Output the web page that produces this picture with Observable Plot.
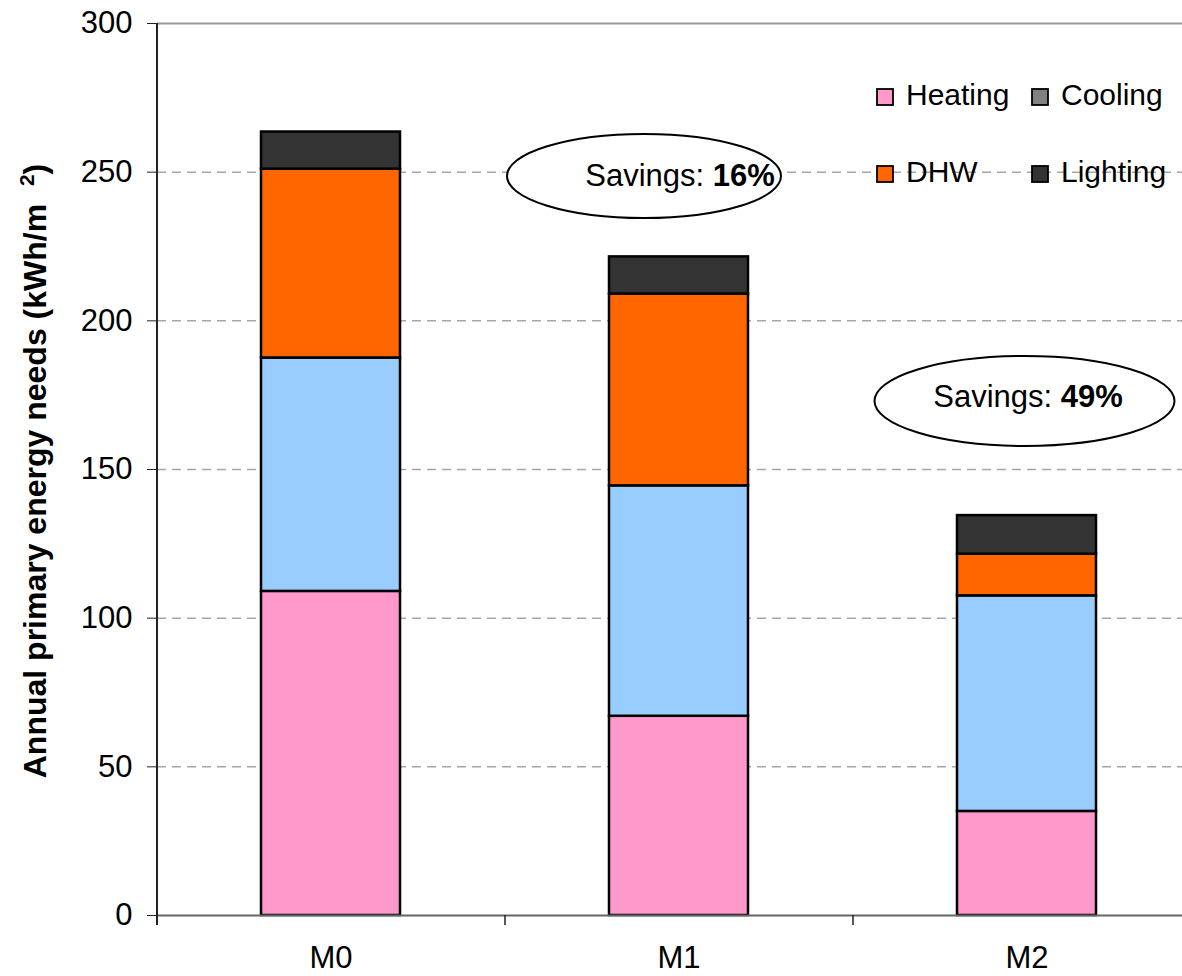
<!DOCTYPE html>
<html>
<head>
<meta charset="utf-8">
<script src="https://cdn.jsdelivr.net/npm/d3@7"></script>
<script src="https://cdn.jsdelivr.net/npm/@observablehq/plot@0.6"></script>
<style>
  body { margin: 0; background: #fff; }
  #chart svg { display: block; }
</style>
</head>
<body>
<div id="chart"></div>
<script>
// Annual primary energy needs per model, stacked by end use (kWh/m²)
const models = ["M0", "M1", "M2"];
const seriesNames = ["Heating", "Cooling", "DHW", "Lighting"];
const heating = [109, 67, 35];
const cooling = [78.5, 77.5, 72.5];
const dhw = [63.5, 64.5, 14];
const lighting = [12.5, 12.5, 13];
const yTicks = [0, 50, 100, 150, 200, 250, 300];
const gridTicks = [50, 100, 150, 200, 250];

// Bar fills (cooling points recoloured) and the series swatches in the legend
const barColors = ["#ff99cc", "#99ccff", "#ff6600", "#333333"];
const legendColors = ["#ff99cc", "#808080", "#ff6600", "#333333"];

const seriesValues = [heating, cooling, dhw, lighting];
const rows = [];
seriesNames.forEach((s, i) =>
  models.forEach((m, j) => rows.push({ model: m, series: s, value: seriesValues[i][j] }))
);
const totals = models.map((m, j) => d3.sum(seriesValues, (v) => v[j]));
const savings = totals.map((t) => Math.round((1 - t / totals[0]) * 100));

const W = 1182, H = 976;
const xRange = [157, 1201];
const step = (xRange[1] - xRange[0]) / models.length;
const font = "'Liberation Sans', Arial, Helvetica, sans-serif";

const plot = Plot.plot({
  width: W,
  height: H,
  marginLeft: 157,
  marginRight: 0,
  marginTop: 23,
  marginBottom: 61,
  style: { fontFamily: font, fontSize: "31px", color: "#000", background: "#fff" },
  x: { domain: models, range: xRange, paddingInner: 0.6, paddingOuter: 0.3, label: null },
  y: { domain: [0, 300], label: null },
  color: { domain: seriesNames, range: barColors },
  marks: [
    Plot.ruleY(gridTicks, { stroke: "#a6a6a6", strokeWidth: 1.5, strokeDasharray: "9,6" }),
    Plot.ruleY([300], { stroke: "#999", strokeWidth: 2 }),
    Plot.barY(rows, Plot.stackY({ order: seriesNames }, {
      x: "model", y: "value", fill: "series", stroke: "#000", strokeWidth: 2.5
    })),
    Plot.ruleY([0], { stroke: "#666", strokeWidth: 2 }),
    // value axis line and category boundary ticks
    Plot.ruleX(["M0"], { x: (d) => d, dx: -step / 2, y1: 300, y2: 0, insetBottom: -10, stroke: "#222", strokeWidth: 2 }),
    Plot.ruleX(models.slice(1), { x: (d) => d, dx: -step / 2, y1: 0, y2: 0, insetBottom: -10, stroke: "#222", strokeWidth: 1.5 }),
    Plot.axisY(yTicks, { tickSize: 10, tickPadding: 15, fontSize: 31, label: null, stroke: "#222" }),
    Plot.axisX({ tickSize: 0, tickPadding: 30, fontSize: 31, label: null })
  ]
});

document.getElementById("chart").appendChild(plot);
const svg = d3.select(plot);

// Y title with superscript
const title = svg.append("text")
  .attr("transform", "translate(46,471) rotate(-90)")
  .attr("text-anchor", "middle")
  .attr("font-family", font)
  .attr("font-weight", "bold")
  .attr("font-size", 32)
  .attr("fill", "#000");
title.append("tspan").text("Annual primary energy needs (kWh/m  ");
title.append("tspan").attr("dy", -12).attr("font-size", 21).text("2");
title.append("tspan").attr("dy", 12).text(")");

// Savings callouts
const callouts = [
  { cx: 644, cy: 176, rx: 137, ry: 42, tx: 680, ty: 186, pct: savings[1] },
  { cx: 1024.5, cy: 401, rx: 150, ry: 45, tx: 1028, ty: 407, pct: savings[2] }
];
const cg = svg.append("g");
callouts.forEach((c) => {
  cg.append("ellipse")
    .attr("cx", c.cx).attr("cy", c.cy).attr("rx", c.rx).attr("ry", c.ry)
    .attr("fill", "#fff").attr("stroke", "#000").attr("stroke-width", 2);
  const t = cg.append("text")
    .attr("x", c.tx).attr("y", c.ty)
    .attr("text-anchor", "middle")
    .attr("font-family", font).attr("font-size", 31).attr("fill", "#000");
  t.append("tspan").text("Savings: ");
  t.append("tspan").attr("font-weight", "bold").text(c.pct + "%");
});

// Legend, two columns by two rows
const lg = svg.append("g")
  .attr("font-family", font)
  .attr("font-size", 30)
  .attr("text-anchor", "start");
const legendPos = [[877, 89], [1032, 89], [877, 166], [1032, 166]];
seriesNames.forEach((s, i) => {
  const [lx, ly] = legendPos[i];
  lg.append("rect")
    .attr("x", lx).attr("y", ly).attr("width", 16).attr("height", 16)
    .attr("fill", legendColors[i]).attr("stroke", "#000").attr("stroke-width", 1.8);
  lg.append("text")
    .attr("x", lx + 29).attr("y", ly + 16)
    .attr("fill", "#000")
    .text(s);
});
</script>
</body>
</html>
